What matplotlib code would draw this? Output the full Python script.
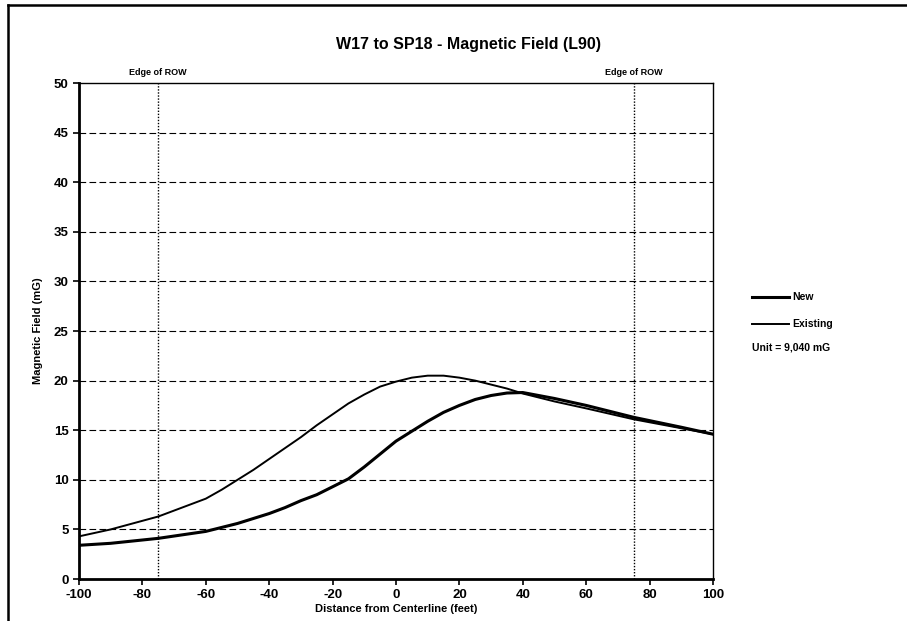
import numpy as np
import matplotlib
matplotlib.use('Agg')
import matplotlib.pyplot as plt
from matplotlib.lines import Line2D

plt.rcParams['font.family'] = ['Liberation Sans', 'DejaVu Sans']
plt.rcParams['font.weight'] = 'bold'
plt.rcParams['axes.unicode_minus'] = False

# distance from centerline (feet)
dist = [-100, -90, -75, -60, -55, -50, -45, -40, -35, -30, -25, -20, -15, -10, -5, 0,
        5, 10, 15, 20, 25, 30, 35, 40, 50, 60, 75, 90, 100]
# magnetic field (mG)
new_field = [3.4, 3.6, 4.1, 4.8, 5.2, 5.6, 6.1, 6.6, 7.2, 7.9, 8.5, 9.3, 10.1, 11.3, 12.6, 13.9,
             14.9, 15.9, 16.8, 17.5, 18.1, 18.5, 18.75, 18.8, 18.2, 17.5, 16.3, 15.3, 14.6]
existing_field = [4.3, 5.0, 6.3, 8.1, 9.0, 10.0, 11.0, 12.1, 13.2, 14.3, 15.5, 16.6, 17.7, 18.6, 19.4, 19.9,
                  20.3, 20.5, 20.5, 20.3, 20.0, 19.6, 19.2, 18.7, 17.9, 17.2, 16.1, 15.2, 14.6]
row_edges = [-75, 75]

xticks = np.arange(-100, 101, 20)
yticks = np.arange(0, 51, 5)

fig = plt.figure(figsize=(9.07, 6.21), dpi=100)
ax = fig.add_axes([0.0871, 0.0676, 0.699, 0.7987])

for y in yticks[1:-1]:
    ax.axhline(y, color='black', lw=0.8, ls=(0, (6, 3)), zorder=1)
for xe in row_edges:
    ax.axvline(xe, color='black', lw=1.0, ls=(0, (1, 1.2)), zorder=1)
    ax.text(xe, 50.6, 'Edge of ROW', ha='center', va='bottom', fontsize=6.5, weight='bold')

ax.plot(dist, new_field, color='black', lw=2.2, zorder=3)
ax.plot(dist, existing_field, color='black', lw=1.4, zorder=3)

ax.set_xlim(-100, 100)
ax.set_ylim(0, 50)
ax.set_xticks(xticks)
ax.set_yticks(yticks)
ax.tick_params(direction='out', length=4, width=1.2, labelsize=9.5)
for lab in ax.get_xticklabels() + ax.get_yticklabels():
    lab.set_fontweight('bold')
for s in ax.spines.values():
    s.set_linewidth(1.0)
ax.spines['left'].set_linewidth(2.0)
ax.spines['bottom'].set_linewidth(2.0)

ax.set_xlabel('Distance from Centerline (feet)', fontsize=8, weight='bold', labelpad=2)
ax.set_ylabel('Magnetic Field (mG)', fontsize=8, weight='bold', labelpad=8)

fig.text(0.517, 0.928, 'W17 to SP18 - Magnetic Field (L90)', ha='center', va='center',
         fontsize=11.5, weight='bold')

# legend drawn beside the plot
fig.add_artist(Line2D([0.829, 0.870], [0.522, 0.522], color='black', lw=2.2))
fig.text(0.873, 0.522, 'New', va='center', fontsize=7.5, weight='bold')
fig.add_artist(Line2D([0.829, 0.870], [0.478, 0.478], color='black', lw=1.4))
fig.text(0.873, 0.478, 'Existing', va='center', fontsize=7.5, weight='bold')
fig.text(0.829, 0.440, 'Unit = 9,040 mG', va='center', fontsize=7.5, weight='bold')

# scanned page frame
fig.add_artist(Line2D([0.009, 1.0], [0.992, 0.992], color='black', lw=1.8))
fig.add_artist(Line2D([0.009, 0.009], [0.0, 0.992], color='black', lw=1.8))

fig.savefig('out.png', dpi=100)
